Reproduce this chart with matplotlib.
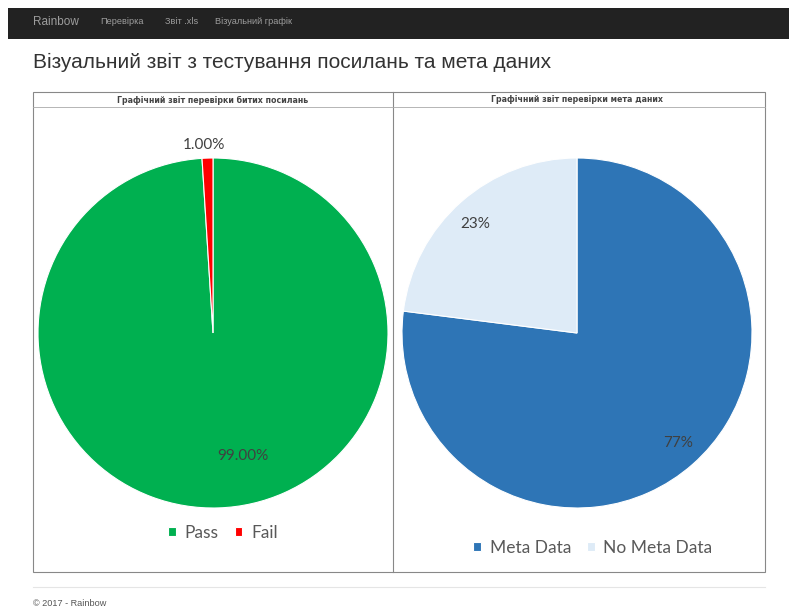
import matplotlib
matplotlib.use("Agg")
import matplotlib.pyplot as plt
from matplotlib.patches import Rectangle
from matplotlib.lines import Line2D

W, H = 797, 609

# ---- data ----
links_labels = ["Pass", "Fail"]
links_values = [99.0, 1.0]
links_colors = ["#00B050", "#FF0000"]
links_pct_text = ["99.00%", "1.00%"]

meta_labels = ["Meta Data", "No Meta Data"]
meta_values = [77, 23]
meta_colors = ["#2E75B6", "#DEEBF7"]
meta_pct_text = ["77%", "23%"]

nav_items = ["Перевірка", "Звіт .xls", "Візуальний графік"]
page_title = "Візуальний звіт з тестування посилань та мета даних"
left_header = "Графічний звіт перевірки битих посилань"
right_header = "Графічний звіт перевірки мета даних"
footer = "© 2017 - Rainbow"

fig = plt.figure(figsize=(W / 100, H / 100), dpi=100)
fig.patch.set_facecolor("white")

# page overlay in pixel coordinates
bg = fig.add_axes([0, 0, 1, 1])
bg.set_xlim(0, W)
bg.set_ylim(H, 0)
bg.axis("off")

# navbar
bg.add_patch(Rectangle((8, 8), W - 16, 31, facecolor="#222222", edgecolor="none"))
bg.text(33, 22, "Rainbow", color="#9d9d9d", fontsize=8.5, va="center", family="Liberation Sans")
for x, t in zip([100, 165, 215], nav_items):
    bg.text(x, 22, t, color="#9d9d9d", fontsize=6.6, va="center", family="Liberation Sans")

# title
bg.text(33, 62, page_title, color="#333333", fontsize=15, va="center", family="Liberation Sans")

# outer box and divider
bg.add_patch(Rectangle((33, 92), 732, 480, facecolor="none", edgecolor="#888888", lw=0.8))
bg.add_line(Line2D([393, 393], [92, 572], color="#888888", lw=0.8))
bg.add_line(Line2D([33, 765], [107, 107], color="#aaaaaa", lw=0.6))
bg.text(213, 100, left_header, fontsize=5.7, fontweight="bold", color="#444444",
        ha="center", va="center", family="DejaVu Sans")
bg.text(577, 100, right_header, fontsize=5.7, fontweight="bold", color="#444444",
        ha="center", va="center", family="DejaVu Sans")

# footer
bg.add_line(Line2D([33, 765], [587, 587], color="#e5e5e5", lw=0.8))
bg.text(33, 604, footer, fontsize=6.6, color="#555555", va="center", family="Liberation Sans")


def make_pie(cx, cy, r, values, colors, pct_texts, label_pos, labels, legend_x, legend_y):
    ax = fig.add_axes([(cx - r) / W, (H - cy - r) / H, 2 * r / W, 2 * r / H])
    wedges, _ = ax.pie(values, colors=colors, startangle=90, counterclock=False,
                       radius=1, wedgeprops=dict(edgecolor="white", linewidth=0.8))
    ax.set_xlim(-1, 1)
    ax.set_ylim(-1, 1)
    ax.set_aspect("auto")
    for t, (x, y) in zip(pct_texts, label_pos):
        ax.text(x, y, t, ha="center", va="center", fontsize=11, color="#404040", family="Lato")
    leg = fig.legend(wedges, labels, loc="center", bbox_to_anchor=(legend_x / W, 1 - legend_y / H),
                     ncol=2, frameon=False, handlelength=0.45, handleheight=0.45,
                     handletextpad=0.5, columnspacing=0.9,
                     prop={"family": "Lato", "size": 12.5})
    for txt in leg.get_texts():
        txt.set_color("#595959")
    return ax


make_pie(213, 333, 175, links_values, links_colors, links_pct_text,
         [(0.17, -0.70), (-0.05, 1.075)], links_labels, 223, 533)
make_pie(577, 333, 175, meta_values, meta_colors, meta_pct_text,
         [(0.58, -0.63), (-0.58, 0.62)], meta_labels, 593, 548)

fig.savefig("out.png", dpi=100, facecolor="white")
